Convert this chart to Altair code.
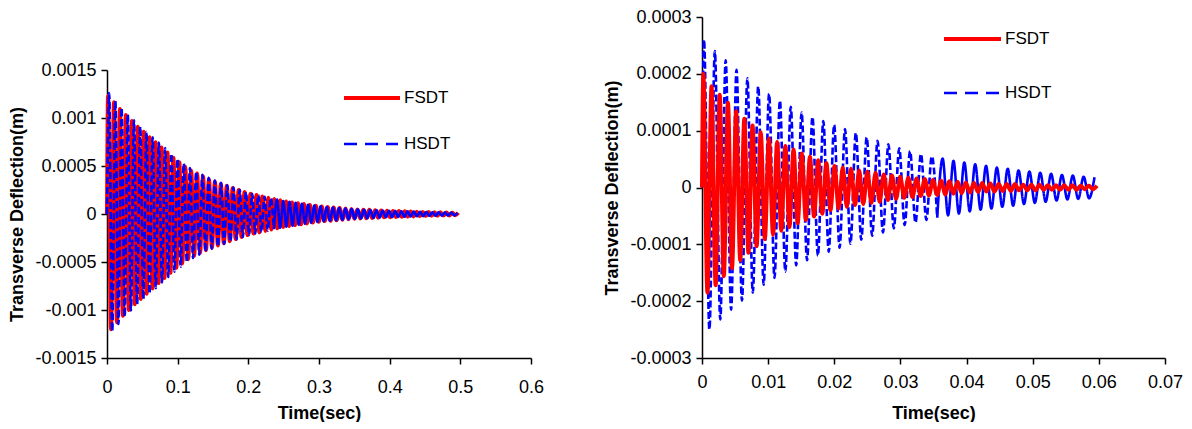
import altair as alt
import pandas as pd

FONT = "Liberation Sans"

# ---------------- data ----------------
# Each series: time of first extremum, half period (s), and the magnitudes of the
# successive extrema in micrometres (signs alternate +, -, +, ... starting positive).

# Left panel (0 - 0.5 s)
L_FSDT_T0, L_FSDT_HALF = 0.0015, 0.0042
L_FSDT_AMP = [
    1230, 1200, 1165, 1130, 1095, 1060, 1030, 1000, 970, 940,
    910, 885, 857, 830, 800, 775, 748, 720, 694, 666,
    640, 613, 587, 560, 538, 515, 493, 472, 452, 436,
    421, 406, 392, 377, 363, 350, 338, 327, 316, 305,
    294, 283, 272, 261, 250, 240, 229, 219, 211, 204,
    197, 190, 183, 176, 169, 162, 155, 149, 142, 136,
    131, 126, 121, 116, 112, 107, 103, 98, 94, 89,
    85, 81, 77, 74, 72, 70, 67, 65, 62, 60,
    57, 55, 52, 50, 48, 47, 45, 44, 43, 41,
    40, 38, 37, 35, 34, 33, 32, 31, 30, 29,
    28, 27, 26, 25, 24, 23, 22, 21, 20, 19,
    18, 18, 17, 16, 15, 15, 14, 13, 13,
]
L_HSDT_T0, L_HSDT_HALF = 0.003, 0.0044
L_HSDT_AMP = [
    1260, 1220, 1180, 1145, 1105, 1070, 1035, 1005, 975, 940,
    910, 885, 857, 828, 800, 772, 743, 714, 686, 657,
    628, 600, 572, 548, 525, 502, 478, 458, 441, 425,
    409, 393, 378, 362, 348, 336, 324, 312, 300, 288,
    276, 264, 252, 240, 229, 218, 210, 203, 196, 188,
    180, 173, 166, 158, 151, 144, 136, 131, 126, 121,
    116, 111, 107, 102, 97, 92, 87, 83, 79, 76,
    73, 71, 68, 66, 63, 60, 58, 55, 52, 50,
    48, 47, 45, 44, 42, 41, 39, 37, 36, 34,
    33, 32, 31, 30, 29, 28, 27, 26, 25, 24,
    23, 22, 20, 19, 19, 18, 17, 16, 16, 15,
    14, 13, 13,
]

# Right panel (0 - 0.06 s)
R_FSDT_T0, R_FSDT_HALF = 0.0002, 0.00062
R_FSDT_AMP = [
    200, 185, 178, 172, 163, 156, 149, 142, 134, 128,
    121, 115, 109, 103, 97, 91, 86, 83, 80, 76,
    73, 70, 67, 63, 60, 57, 54, 51, 48, 46,
    43, 40, 38, 37, 35, 34, 33, 31, 30, 29,
    28, 27, 26, 25, 23, 22, 21, 20, 19, 18,
    17, 17, 16, 15, 15, 14, 13, 13, 12, 12,
    11, 11, 10, 10, 9, 9, 8, 8, 8, 7,
    7, 7, 6, 6, 6, 6, 6, 5, 5, 5,
    5, 5, 5, 4, 4, 4, 4, 4, 4, 4,
    4, 4, 3, 3, 3, 3, 3,
]
R_HSDT_T0, R_HSDT_HALF = 0.0003, 0.00082
R_HSDT_AMP = [
    260, 250, 240, 232, 224, 215, 207, 199, 192, 185,
    178, 171, 165, 159, 153, 148, 142, 137, 132, 128,
    124, 120, 117, 113, 110, 106, 103, 99, 96, 92,
    88, 85, 82, 79, 76, 72, 69, 66, 64, 62,
    59, 57, 55, 53, 51, 49, 47, 46, 44, 42,
    41, 39, 38, 37, 35, 34, 33, 32, 30, 29,
    28, 27, 26, 25, 24, 23, 22, 21, 21, 20,
    19, 19, 18,
]

L_XTICKS = [0, 0.1, 0.2, 0.3, 0.4, 0.5, 0.6]
L_YTICKS = [-0.0015, -0.001, -0.0005, 0, 0.0005, 0.001, 0.0015]
R_XTICKS = [0, 0.01, 0.02, 0.03, 0.04, 0.05, 0.06, 0.07]
R_YTICKS = [-0.0003, -0.0002, -0.0001, 0, 0.0001, 0.0002, 0.0003]
SERIES = ["FSDT", "HSDT"]
X_TITLE = "Time(sec)"
Y_TITLE = "Transverse Deflection(m)"


def build(t0, half, amps, cut=None):
    ts = [0.0] + [t0 + half * k for k in range(len(amps))]
    ws = [0.0] + [a * 1e-6 * (1 if k % 2 == 0 else -1) for k, a in enumerate(amps)]
    rows = []
    if cut is None:
        for t, w in zip(ts, ws):
            rows.append({"t": t, "w": w, "style": "solid"})
    else:
        i = max(j for j, t in enumerate(ts) if t <= cut)
        for t, w in zip(ts[: i + 1], ws[: i + 1]):
            rows.append({"t": t, "w": w, "style": "dash"})
        for t, w in zip(ts[i:], ws[i:]):
            rows.append({"t": t, "w": w, "style": "solid"})
    return pd.DataFrame(rows)


ONE = pd.DataFrame({"k": [0]})


def panel(fdf, hdf, xdom, xticks, ydom, yticks, w, h, leg, red_on_top, xlabpad, xtitpad):
    x = alt.X("t:Q", scale=alt.Scale(domain=xdom, nice=False, zero=False),
              axis=alt.Axis(values=xticks, title=X_TITLE, labelExpr="'' + datum.value",
                            labelFlush=False, labelOverlap=False, labelPadding=xlabpad,
                            titlePadding=xtitpad))
    y = alt.Y("w:Q", scale=alt.Scale(domain=ydom, nice=False, zero=False),
              axis=alt.Axis(values=yticks, title=Y_TITLE, labelExpr="'' + datum.value",
                            labelFlush=False, labelOverlap=False, labelPadding=5,
                            titlePadding=8))
    red = alt.Chart(fdf).mark_line(color="#ff0000", strokeWidth=4,
                                   interpolate="monotone").encode(x=x, y=y)
    blue = alt.Chart(hdf).mark_line(color="#0000ff", strokeWidth=2.6,
                                    interpolate="monotone").encode(
        x=x, y=y,
        strokeDash=alt.StrokeDash("style:N", legend=None,
                                  scale=alt.Scale(domain=["dash", "solid"],
                                                  range=[[7, 3], [1, 0]])))
    lx0, lx1, tx, y1, y2 = leg
    r1 = alt.Chart(ONE).mark_rule(color="#ff0000", strokeWidth=4).encode(
        x=alt.value(lx0), x2=alt.value(lx1), y=alt.value(y1))
    r2 = alt.Chart(ONE).mark_rule(color="#0000ff", strokeWidth=2.6, strokeDash=[13, 8]).encode(
        x=alt.value(lx0), x2=alt.value(lx1 - 2), y=alt.value(y2))
    t1 = alt.Chart(ONE).mark_text(align="left", baseline="middle", font=FONT, fontSize=17,
                                  color="black").encode(
        x=alt.value(tx), y=alt.value(y1), text=alt.value(SERIES[0]))
    t2 = alt.Chart(ONE).mark_text(align="left", baseline="middle", font=FONT, fontSize=17,
                                  color="black").encode(
        x=alt.value(tx), y=alt.value(y2), text=alt.value(SERIES[1]))
    lines = [blue, red] if red_on_top else [red, blue]
    return alt.layer(*lines, r1, r2, t1, t2).properties(width=w, height=h)


left = panel(build(L_FSDT_T0, L_FSDT_HALF, L_FSDT_AMP),
             build(L_HSDT_T0, L_HSDT_HALF, L_HSDT_AMP, cut=0.24),
             [0, 0.6], L_XTICKS, [-0.0015, 0.0015], L_YTICKS, 424, 288,
             (237, 293, 297, 28, 74), red_on_top=False, xlabpad=14, xtitpad=8)
right = panel(build(R_FSDT_T0, R_FSDT_HALF, R_FSDT_AMP),
              build(R_HSDT_T0, R_HSDT_HALF, R_HSDT_AMP, cut=0.036),
              [0, 0.07], R_XTICKS, [-0.0003, 0.0003], R_YTICKS, 463, 341,
              (242, 299, 303, 22, 76), red_on_top=True, xlabpad=9, xtitpad=13)

spacer = alt.Chart(ONE).mark_point(opacity=0).properties(width=424, height=44)
left_col = alt.vconcat(spacer, left, spacing=0)

chart = (
    alt.hconcat(left_col, right, spacing=59)
    .properties(padding=0)
    .configure_view(stroke=None)
    .configure_axis(domainColor="black", domainWidth=1.5, tickColor="black",
                    tickWidth=1.5, tickSize=6, grid=False,
                    labelFont=FONT, labelFontSize=18, labelColor="black",
                    titleFont=FONT, titleFontSize=18, titleFontWeight="bold",
                    titleColor="black")
)

chart.save("out.html", embed_options={"renderer": "svg", "actions": False})
